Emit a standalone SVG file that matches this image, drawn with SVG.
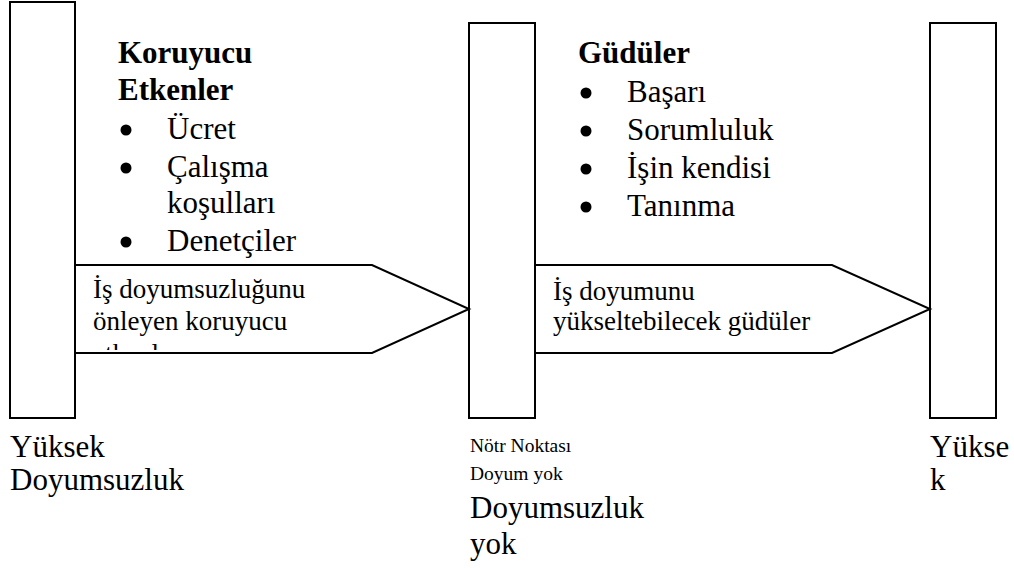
<svg xmlns="http://www.w3.org/2000/svg" width="1014" height="568" viewBox="0 0 1014 568" font-family="Liberation Serif, serif">
<style>
.bar{fill:#fff;stroke:#000;stroke-width:2}
.arr{fill:#fff;stroke:#000;stroke-width:2;stroke-linejoin:miter}
.big{font-size:31px}
.bold{font-weight:bold}
.sm{font-size:27px}
.xs{font-size:19.5px}
.dot{fill:#000}
</style>
<defs>
<clipPath id="clip1"><rect x="76" y="266" width="300" height="84"/></clipPath>
</defs>
<rect width="1014" height="568" fill="#fff"/>
<g id="bar-left"><rect class="bar" x="10" y="2" width="65" height="416"/></g>
<g id="bar-middle"><rect class="bar" x="469" y="23" width="66" height="395"/></g>
<g id="bar-right"><rect class="bar" x="930" y="23" width="66" height="395"/></g>
<g id="connectors">
<g id="arrow-1">
<polygon class="arr" points="75,265 372,265 469,309 372,353 75,353"/>
<g clip-path="url(#clip1)" font-family="Liberation Serif, serif">
<text class="sm" x="93" y="298">İş doyumsuzluğunu</text>
<text class="sm" x="93" y="330">önleyen koruyucu</text>
<text class="sm" x="93" y="363">etkenler</text>
</g>
</g>
<g id="arrow-2" font-family="Liberation Serif, serif">
<polygon class="arr" points="535,265 832,265 930,309 832,353 535,353"/>
<text class="sm" x="553" y="300">İş doyumunu</text>
<text class="sm" x="553" y="330">yükseltebilecek güdüler</text>
</g>
</g>
<g id="koruyucu" font-family="Liberation Serif, serif">
<text class="big bold" x="118" y="63">Koruyucu</text>
<text class="big bold" x="118" y="100">Etkenler</text>
<circle class="dot" cx="126" cy="130" r="5.5"/><text class="big" x="167" y="139">Ücret</text>
<circle class="dot" cx="126" cy="168" r="5.5"/><text class="big" x="167" y="177">Çalışma</text>
<text class="big" x="167" y="213">koşulları</text>
<circle class="dot" cx="126" cy="242" r="5.5"/><text class="big" x="167" y="251">Denetçiler</text>
</g>
<g id="gudeler" font-family="Liberation Serif, serif">
<text class="big bold" x="578" y="63">Güdüler</text>
<circle class="dot" cx="586" cy="93" r="5.5"/><text class="big" x="627" y="102">Başarı</text>
<circle class="dot" cx="586" cy="131" r="5.5"/><text class="big" x="627" y="140">Sorumluluk</text>
<circle class="dot" cx="586" cy="169" r="5.5"/><text class="big" x="627" y="178">İşin kendisi</text>
<circle class="dot" cx="586" cy="207" r="5.5"/><text class="big" x="627" y="216">Tanınma</text>
</g>
<g id="label-left" font-family="Liberation Serif, serif">
<text class="big" x="10" y="457">Yüksek</text>
<text class="big" x="10" y="490">Doyumsuzluk</text>
</g>
<g id="label-middle" font-family="Liberation Serif, serif">
<text class="xs" x="470" y="452">Nötr Noktası</text>
<text class="xs" x="470" y="480">Doyum yok</text>
<text class="big" x="470" y="518">Doyumsuzluk</text>
<text class="big" x="470" y="554">yok</text>
</g>
<g id="label-right" font-family="Liberation Serif, serif">
<text class="big" x="930" y="457">Yükse</text>
<text class="big" x="930" y="490">k</text>
</g>
</svg>
